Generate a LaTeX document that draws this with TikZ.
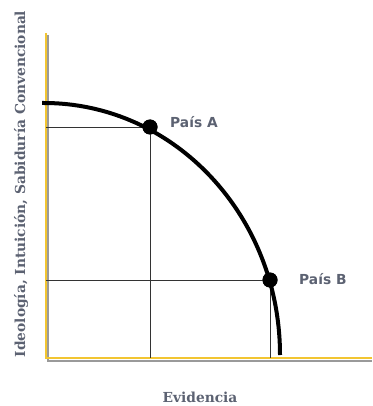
\documentclass[tikz,border=0pt]{standalone}
\usepackage{fontspec}
\newfontfamily\serifb{DejaVu Serif}
\newfontfamily\sansb{DejaVu Sans}
\definecolor{axisyellow}{HTML}{F2C531}
\definecolor{shadowgray}{HTML}{9A9A9A}
\definecolor{textgray}{HTML}{5C6272}
\definecolor{guide}{HTML}{333333}
\begin{document}
\begin{tikzpicture}[x=1pt,y=-1pt,
  axis/.style={draw=axisyellow,line width=2.2pt},
  shadow/.style={draw=shadowgray,line width=2.2pt},
  guideline/.style={draw=guide,line width=0.8pt},
  curve/.style={draw=black,line width=4pt},
  dot/.style={circle,fill=black,inner sep=0pt,minimum size=15pt},
  country/.style={font=\sansb\bfseries\fontsize{13.8}{16}\selectfont,text=textgray,inner sep=0pt},
  axislabel/.style={font=\serifb\bfseries\fontsize{13.8}{16}\selectfont,text=textgray,inner sep=0pt}]
\useasboundingbox (0,0) rectangle (372,406);
% axes
\coordinate (O) at (46,358);
\coordinate (Ytop) at (46,33);
\coordinate (Xend) at (372,358);
\draw[shadow] (48,35) -- (48,361) -- (372,361);
\draw[axis] (Ytop) -- (O) -- (Xend);
% points
\node[dot] (A) at (150,127) {};
\node[dot] (B) at (270,280) {};
\coordinate (Ay) at (46,127);
\coordinate (Ax) at (150,358);
\coordinate (By) at (46,280);
\coordinate (Bx) at (270,358);
\draw[guideline] (Ay) -- (A.center) -- (Ax);
\draw[guideline] (By) -- (B.center) -- (Bx);
% curve: ellipse quadrant
\draw[curve] (42,103) -- (44,103) arc[start angle=90,end angle=0,x radius=236,y radius=-252];
\node[dot] at (A) {};
\node[dot] at (B) {};
% labels
\node[country,anchor=base west] (LA) at (170,128) {País A};
\node[country,anchor=base west] (LB) at (299,284) {País B};
\node[axislabel,anchor=base] (LX) at (200,402) {Evidencia};
\node[axislabel,rotate=90,anchor=base] (LY) at (25,184) {Ideología, Intuición, Sabiduría Convencional};
\end{tikzpicture}
\end{document}
